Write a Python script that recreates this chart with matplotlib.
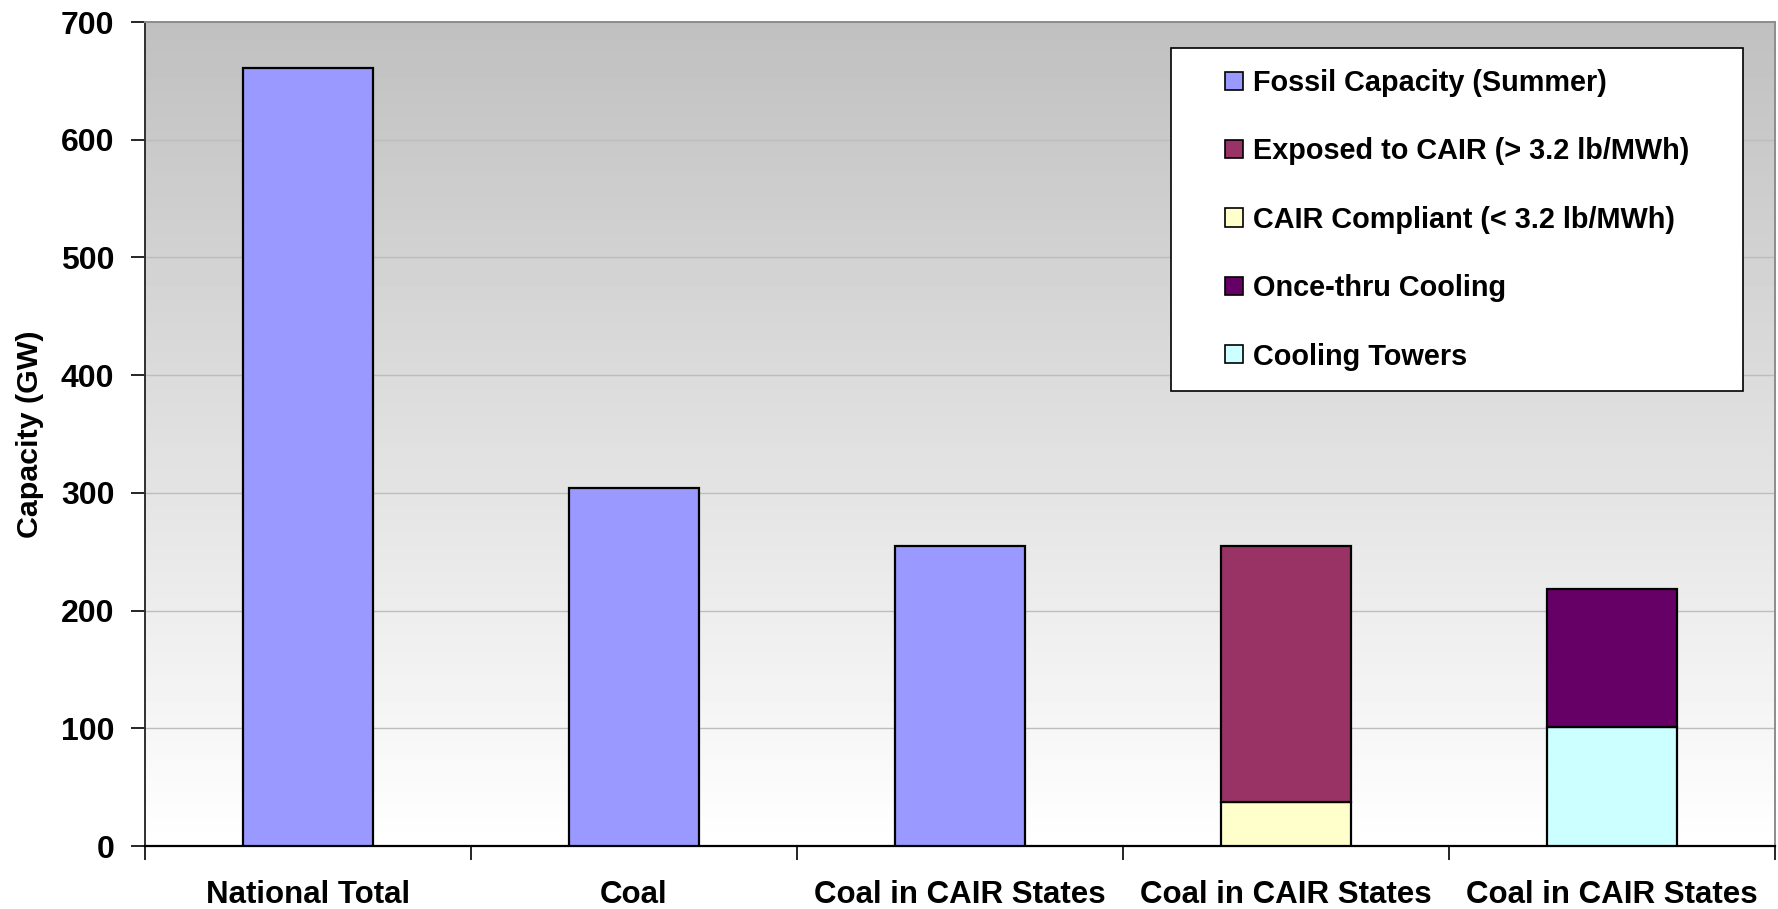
import numpy as np
import matplotlib
matplotlib.use("Agg")
import matplotlib.pyplot as plt
from matplotlib.patches import Patch, Rectangle
from matplotlib.legend_handler import HandlerPatch

plt.rcParams['font.family'] = ['Liberation Sans', 'DejaVu Sans']
plt.rcParams['font.weight'] = 'bold'

# ---- data ----
categories = ["National Total", "Coal", "Coal in CAIR States",
              "Coal in CAIR States", "Coal in CAIR States"]
fossil_capacity = [661, 304, 255, 0, 0]
cair_compliant = [0, 0, 0, 37, 0]
exposed_to_cair = [0, 0, 0, 218, 0]
cooling_towers = [0, 0, 0, 0, 101]
once_thru = [0, 0, 0, 0, 117]
y_ticks = [0, 100, 200, 300, 400, 500, 600, 700]

series_labels = ["Fossil Capacity (Summer)", "Exposed to CAIR (> 3.2 lb/MWh)",
                 "CAIR Compliant (< 3.2 lb/MWh)", "Once-thru Cooling",
                 "Cooling Towers"]
colors = {"fossil": "#9999FF", "exposed": "#993366", "compliant": "#FFFFCC",
          "once": "#660066", "towers": "#CCFFFF"}

W, H, DPI = 1778, 909, 100
fig = plt.figure(figsize=(W / DPI, H / DPI), dpi=DPI)
ax = fig.add_axes([145 / W, 1 - 846 / H, (1775 - 145) / W, (846 - 22) / H])

x = np.arange(len(categories))
ax.set_xlim(-0.5, len(categories) - 0.5)
ax.set_ylim(0, 700)

# gradient background
grad = np.linspace(1.0, 192 / 255, 256).reshape(-1, 1)
ax.imshow(grad, cmap="gray", vmin=0, vmax=1, aspect="auto",
          extent=(-0.5, len(categories) - 0.5, 0, 700), origin="lower",
          zorder=0, interpolation="bicubic")

ax.set_yticks(y_ticks)
ax.yaxis.grid(True, color="#bdbdbd", lw=1.0, zorder=1)
ax.set_axisbelow(True)

bw = 0.4
edge = dict(edgecolor="black", linewidth=1.6, zorder=3)


def draw(vals, bottom, color, label):
    vals = np.asarray(vals, float)
    bottom = np.asarray(bottom, float)
    m = vals > 0
    ax.bar(x[m], vals[m], bw, bottom=bottom[m], color=color, label=label, **edge)


zero = np.zeros(len(categories))
draw(fossil_capacity, zero, colors["fossil"], series_labels[0])
draw(cair_compliant, zero, colors["compliant"], series_labels[2])
draw(exposed_to_cair, np.array(cair_compliant, float), colors["exposed"], series_labels[1])
draw(cooling_towers, zero, colors["towers"], series_labels[4])
draw(once_thru, np.array(cooling_towers, float), colors["once"], series_labels[3])

# axes styling
ax.set_xticks(x)
ax.set_xticklabels(categories, fontsize=22.5, fontweight="bold")
ax.tick_params(axis="x", which="major", length=0, pad=24.5)
ax.set_xticks(np.arange(-0.5, len(categories), 1.0), minor=True)
ax.tick_params(axis="x", which="minor", length=10, width=1.2, color="black")
ax.tick_params(axis="y", length=10, width=1.2, pad=12, labelsize=23)
for lab in ax.get_yticklabels():
    lab.set_fontweight("bold")
ax.set_ylabel("Capacity (GW)", fontsize=21.9, fontweight="bold", labelpad=12)

ax.spines["left"].set_color("#303030")
ax.spines["left"].set_linewidth(1.4)
ax.spines["bottom"].set_color("black")
ax.spines["bottom"].set_linewidth(1.6)
for s in ("top", "right"):
    ax.spines[s].set_color("#8c8c8c")
    ax.spines[s].set_linewidth(1.4)

# legend
legend_order = [("fossil", 0), ("exposed", 1), ("compliant", 2), ("once", 3), ("towers", 4)]
handles = [Patch(facecolor=colors[k], edgecolor="black", linewidth=1.2,
                 label=series_labels[i]) for k, i in legend_order]


def square_right(legend, orig_handle, xdescent, ydescent, width, height, fontsize):
    s = height
    return Rectangle((-xdescent + width - s, -ydescent), s, s)


fs = 20.8
lx0, ly0, lx1, ly1 = 1171, 48, 1743, 392
leg = ax.legend(handles=handles, loc="upper left",
                bbox_to_anchor=(lx0 / W, 1 - ly0 / H, (lx1 - lx0) / W, 0.0),
                bbox_transform=fig.transFigure, mode="expand",
                prop={"size": fs, "weight": "bold"},
                handler_map={Patch: HandlerPatch(patch_func=square_right)},
                handlelength=1.77, handleheight=0.59, handletextpad=0.35,
                labelspacing=1.40, borderpad=0.72, borderaxespad=0,
                fancybox=False, framealpha=1, edgecolor="black")
leg.get_frame().set_linewidth(1.2)
leg.set_zorder(5)

fig.savefig("out.png", dpi=DPI, facecolor="white")
